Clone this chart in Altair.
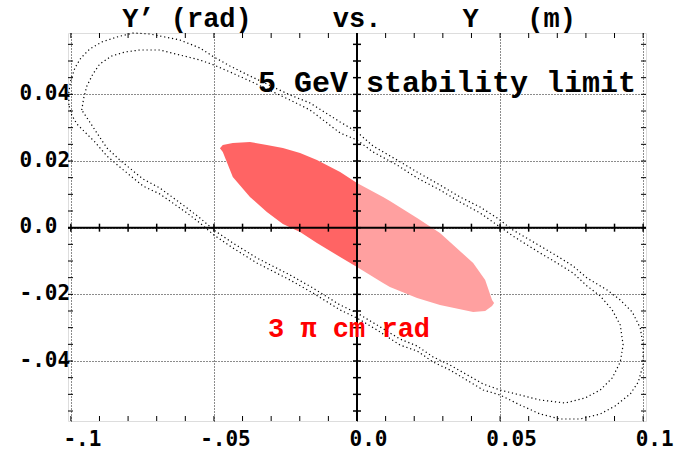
import altair as alt
import pandas as pd

# ---------------- data ----------------
# black "5 GeV stability limit" ring: outer and inner edge of the band of dots
ring_outer_x = [-0.1007, -0.1007, -0.1000, -0.0986, -0.0965, -0.0934, -0.0892, -0.0839, -0.0783, -0.0724,
                -0.0671, -0.0619, -0.0549, -0.0500, -0.0444, -0.0374, -0.0234, -0.0164, -0.0059, 0.0000,
                0.0056, 0.0140, 0.0210, 0.0290, 0.0360, 0.0430, 0.0490, 0.0545, 0.0640, 0.0699,
                0.0755, 0.0804, 0.0874, 0.0920, 0.0962, 0.0990, 0.1000, 0.1000, 0.0983, 0.0955,
                0.0902, 0.0850, 0.0780, 0.0710, 0.0640, 0.0570, 0.0500, 0.0441, 0.0325, 0.0266,
                0.0210, 0.0150, 0.0070, 0.0000, -0.0059, -0.0154, -0.0234, -0.0350, -0.0434, -0.0500,
                -0.0549, -0.0594, -0.0689, -0.0748, -0.0829, -0.0874, -0.0916, -0.0951, -0.0979, -0.0997,
                -0.1007]
ring_outer_y = [0.0368, 0.0407, 0.0443, 0.0479, 0.0509, 0.0536, 0.0557, 0.0572, 0.0584, 0.0581,
                0.0572, 0.0563, 0.0539, 0.0512, 0.0485, 0.0455, 0.0398, 0.0374, 0.0317, 0.0287,
                0.0245, 0.0203, 0.0167, 0.0128, 0.0092, 0.0062, 0.0029, -0.0007, -0.0055, -0.0085,
                -0.0115, -0.0151, -0.0187, -0.0217, -0.0253, -0.0301, -0.0352, -0.0412, -0.0463, -0.0499,
                -0.0535, -0.0559, -0.0574, -0.0574, -0.0559, -0.0532, -0.0502, -0.0487, -0.0427, -0.0403,
                -0.0370, -0.0352, -0.0307, -0.0271, -0.0247, -0.0196, -0.0157, -0.0106, -0.0061, -0.0022,
                0.0014, 0.0044, 0.0101, 0.0125, 0.0182, 0.0215, 0.0257, 0.0287, 0.0311, 0.0338,
                0.0368]
ring_inner_x = [-0.0962, -0.0955, -0.0944, -0.0923, -0.0899, -0.0857, -0.0811, -0.0759, -0.0689, -0.0619,
                -0.0549, -0.0500, -0.0444, -0.0374, -0.0234, -0.0164, -0.0059, 0.0000, 0.0056, 0.0140,
                0.0210, 0.0290, 0.0360, 0.0430, 0.0490, 0.0545, 0.0640, 0.0699, 0.0755, 0.0804,
                0.0850, 0.0892, 0.0920, 0.0930, 0.0920, 0.0892, 0.0850, 0.0797, 0.0727, 0.0640,
                0.0570, 0.0500, 0.0441, 0.0325, 0.0266, 0.0210, 0.0150, 0.0070, 0.0000, -0.0059,
                -0.0154, -0.0234, -0.0350, -0.0434, -0.0500, -0.0549, -0.0594, -0.0689, -0.0748, -0.0829,
                -0.0874, -0.0909, -0.0934, -0.0962]
ring_inner_y = [0.0353, 0.0389, 0.0425, 0.0461, 0.0491, 0.0515, 0.0527, 0.0533, 0.0533, 0.0518,
                0.0503, 0.0488, 0.0467, 0.0440, 0.0383, 0.0353, 0.0284, 0.0263, 0.0227, 0.0188,
                0.0149, 0.0113, 0.0077, 0.0044, 0.0008, -0.0025, -0.0076, -0.0106, -0.0136, -0.0175,
                -0.0205, -0.0247, -0.0292, -0.0352, -0.0403, -0.0451, -0.0487, -0.0511, -0.0526, -0.0517,
                -0.0502, -0.0487, -0.0469, -0.0412, -0.0388, -0.0355, -0.0334, -0.0292, -0.0256, -0.0232,
                -0.0181, -0.0142, -0.0091, -0.0046, -0.0007, 0.0029, 0.0059, 0.0119, 0.0146, 0.0203,
                0.0239, 0.0284, 0.0317, 0.0353]

# red "3 pi cm rad" beam ellipse (dense half for Y<0, sparse half for Y>0)
red_left_x = [-0.0479, -0.0469, -0.0434, -0.0374, -0.0315, -0.0259, -0.0199, -0.0140, -0.0059, 0.0000]
red_left_upper = [0.0238, 0.0248, 0.0254, 0.0257, 0.0248, 0.0239, 0.0224, 0.0203, 0.0167, 0.0134]
red_left_lower = [0.0238, 0.0227, 0.0152, 0.0092, 0.0047, 0.0011, -0.0013, -0.0046, -0.0088, -0.0118]
red_right_x = [0.0000, 0.0091, 0.0115, 0.0210, 0.0290, 0.0406, 0.0448, 0.0472, 0.0479]
red_right_upper = [0.0134, 0.0092, 0.0080, 0.0029, -0.0016, -0.0106, -0.0157, -0.0217, -0.0226]
red_right_lower = [-0.0118, -0.0166, -0.0178, -0.0211, -0.0232, -0.0253, -0.0250, -0.0235, -0.0226]

# axes
x_major = [-0.1, -0.05, 0.0, 0.05, 0.1]
x_labels = ["-.1", "-.05", "0.0", "0.05", "0.1"]
y_major = [-0.04, -0.02, 0.0, 0.02, 0.04]
y_labels = ["-.04", "-.02", "0.0", "0.02", "0.04"]
x_minor = [-0.1, -0.09, -0.08, -0.07, -0.06, -0.05, -0.04, -0.03, -0.02, -0.01, 0.0,
           0.01, 0.02, 0.03, 0.04, 0.05, 0.06, 0.07, 0.08, 0.09, 0.1]
y_minor = [-0.055, -0.05, -0.045, -0.04, -0.035, -0.03, -0.025, -0.02, -0.015, -0.01, -0.005, 0.0,
           0.005, 0.01, 0.015, 0.02, 0.025, 0.03, 0.035, 0.04, 0.045, 0.05, 0.055]

title_text = "Y’ (rad)     vs.     Y   (m)"
limit_text = "5 GeV stability limit"
beam_text = "3 π cm rad"

# ---------------- chart ----------------
W, H = 578, 388
xs = alt.Scale(domain=[-0.101, 0.101], nice=False, zero=False)
ys = alt.Scale(domain=[-0.058, 0.0584], nice=False, zero=False)


def label_expr(vals, labs):
    expr = "''"
    for v, l in reversed(list(zip(vals, labs))):
        expr = f"abs(datum.value - ({v})) < 1e-6 ? '{l}' : " + expr
    return expr


common_axis = dict(title=None, ticks=False, tickSize=0, domain=False, grid=True,
                   gridDash=[1, 2], gridColor="black", gridWidth=1, gridOpacity=0.9,
                   labelFont="DejaVu Sans Mono", labelFontWeight="bold", labelFontSize=21,
                   labelColor="black", labelFlush=False, labelOverlap=False)
xaxis = alt.Axis(values=x_major, labelExpr=label_expr(x_major, x_labels),
                 labelPadding=24, labelBaseline="alphabetic", labelOffset=11, **common_axis)
yaxis = alt.Axis(values=y_major, labelExpr=label_expr(y_major, y_labels),
                 labelPadding=49, labelAlign="left", labelBaseline="middle", labelOffset=-1, **common_axis)


def X(field=None, datum=None):
    if datum is not None:
        return alt.X(datum=datum, type="quantitative", scale=xs, axis=xaxis)
    return alt.X(field, type="quantitative", scale=xs, axis=xaxis)


def Y(field=None, datum=None):
    if datum is not None:
        return alt.Y(datum=datum, type="quantitative", scale=ys, axis=yaxis)
    return alt.Y(field, type="quantitative", scale=ys, axis=yaxis)


rows = []
for i, (a, b) in enumerate(zip(ring_outer_x, ring_outer_y)):
    rows.append({"x": a, "y": b, "i": i, "edge": "outer"})
for i, (a, b) in enumerate(zip(ring_inner_x, ring_inner_y)):
    rows.append({"x": a, "y": b, "i": i, "edge": "inner"})
ring_df = pd.DataFrame(rows)

red_l = pd.DataFrame({"x": red_left_x, "u": red_left_upper, "l": red_left_lower})
red_r = pd.DataFrame({"x": red_right_x, "u": red_right_upper, "l": red_right_lower})
xm = pd.DataFrame({"v": x_minor})
ym = pd.DataFrame({"v": y_minor})
one = pd.DataFrame({"a": [0]})

red_left = alt.Chart(red_l).mark_area(color="#ff6464", orient="vertical").encode(
    x=X("x"), y=Y("u"), y2="l")
red_right = alt.Chart(red_r).mark_area(color="#ffa0a0", orient="vertical").encode(
    x=X("x"), y=Y("u"), y2="l")

ring = alt.Chart(ring_df).mark_line(color="black", strokeWidth=1.2, strokeDash=[1.2, 2.8]).encode(
    x=X("x"), y=Y("y"), order="i:Q", detail="edge:N")

zero_v = alt.Chart(one).mark_rule(color="black", strokeWidth=2).encode(x=X(datum=0.0))
zero_h = alt.Chart(one).mark_rule(color="black", strokeWidth=2).encode(y=Y(datum=0.0))
zt_x = alt.Chart(xm).mark_rule(color="black", strokeWidth=1.5, yOffset=-4, y2Offset=4).encode(
    x=X("v"), y=Y(datum=0.0), y2=alt.Y2(datum=0.0))
zt_y = alt.Chart(ym).mark_rule(color="black", strokeWidth=1.5, xOffset=-4, x2Offset=4).encode(
    y=Y("v"), x=X(datum=0.0), x2=alt.X2(datum=0.0))

tick_b = alt.Chart(xm).mark_rule(color="black", strokeWidth=1).encode(
    x=X("v"), y=alt.value(H), y2=alt.value(H - 5))
tick_t = alt.Chart(xm).mark_rule(color="black", strokeWidth=1).encode(
    x=X("v"), y=alt.value(0), y2=alt.value(5))
tick_l = alt.Chart(ym).mark_rule(color="black", strokeWidth=1).encode(
    y=Y("v"), x=alt.value(0), x2=alt.value(5))
tick_r = alt.Chart(ym).mark_rule(color="black", strokeWidth=1).encode(
    y=Y("v"), x=alt.value(W), x2=alt.value(W - 5))

txt_limit = alt.Chart(one).mark_text(
    text=limit_text, align="left", baseline="alphabetic", font="Liberation Mono",
    fontWeight="bold", fontSize=30, color="black").encode(x=X(datum=-0.0346), y=Y(datum=0.0407))
txt_beam = alt.Chart(one).mark_text(
    text=beam_text, align="left", baseline="alphabetic", font="Liberation Mono",
    fontWeight="bold", fontSize=27, color="#ff0000").encode(x=X(datum=-0.0311), y=Y(datum=-0.0328))

chart = alt.layer(
    red_left, red_right, ring, zero_v, zero_h, zt_x, zt_y,
    tick_b, tick_t, tick_l, tick_r, txt_limit, txt_beam
).properties(
    width=W, height=H,
    autosize=alt.AutoSizeParams(type="none"),
    padding={"left": 68, "top": 33, "right": 33, "bottom": 28},
    title=alt.TitleParams(text=title_text.replace(" ", "\u00a0"), font="Liberation Mono",
                          fontSize=27, fontWeight="bold", color="black", anchor="middle",
                          baseline="bottom", offset=3, dx=-8, dy=32),
).configure_view(stroke="black", strokeWidth=1.5).configure(background="white")

chart.save("out.html", embed_options={"renderer": "svg", "actions": False})
